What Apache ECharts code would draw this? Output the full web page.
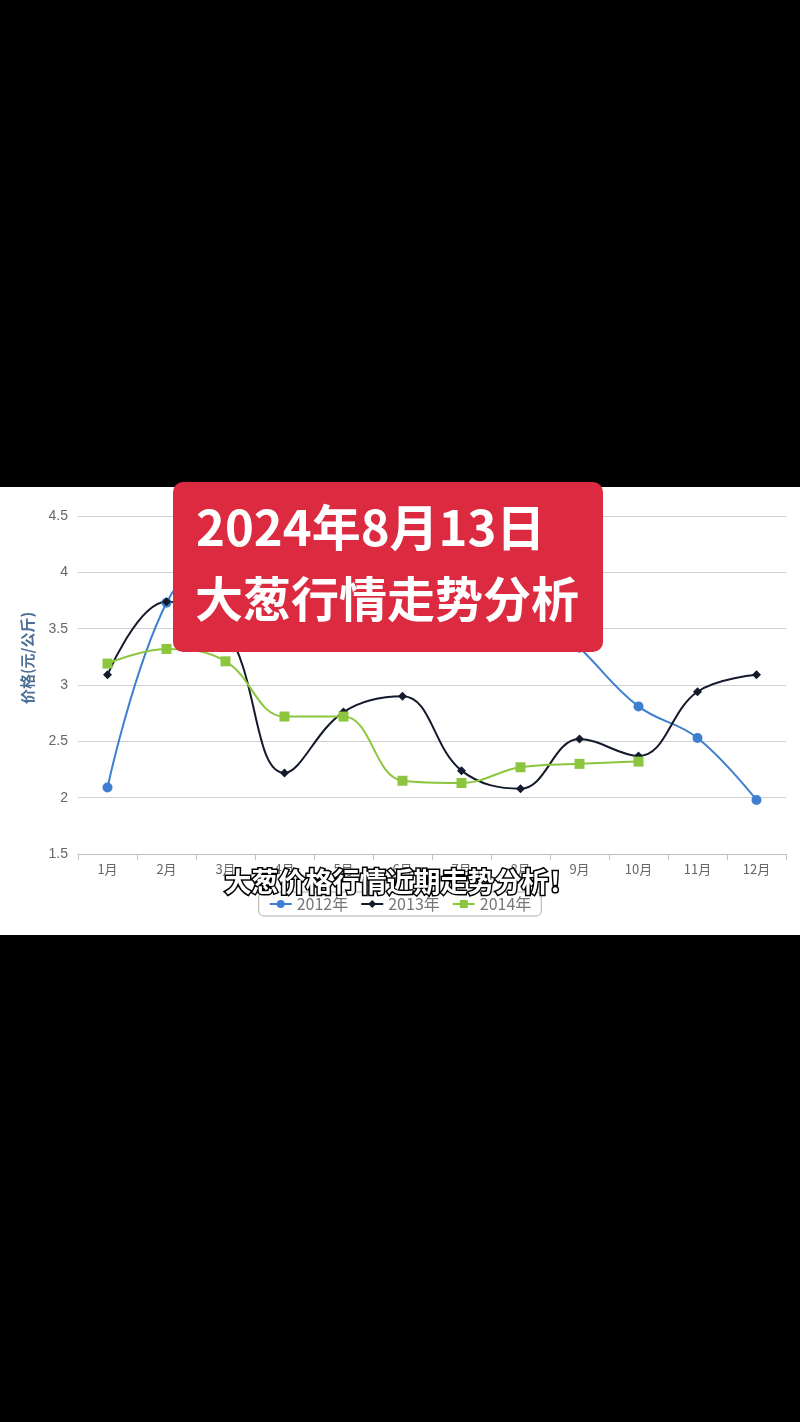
<!DOCTYPE html>
<html>
<head>
<meta charset="utf-8">
<style>
  html, body { margin: 0; padding: 0; background: #000; }
  #main { width: 800px; height: 1422px; }
</style>
<script src="https://cdn.jsdelivr.net/npm/echarts@6/dist/echarts.min.js"></script>
</head>
<body>
<div id="main"></div>
<script>
// 数据
var months = ['1月', '2月', '3月', '4月', '5月', '6月', '7月', '8月', '9月', '10月', '11月', '12月'];
var seriesNames = ['2012年', '2013年', '2014年'];
var price2012 = [2.09, 3.73, 4.2, 4.3, 4.1, 4.0, 4.0, 3.8, 3.33, 2.81, 2.53, 1.98];
var price2013 = [3.09, 3.74, 3.5, 2.22, 2.76, 2.90, 2.24, 2.08, 2.52, 2.37, 2.94, 3.09];
var price2014 = [3.19, 3.32, 3.21, 2.72, 2.72, 2.15, 2.13, 2.27, 2.30, 2.32, null, null];
var yTicks = { min: 1.5, max: 4.5, step: 0.5 };

var myChart = echarts.init(document.getElementById('main'));

function lineSeries(name, data, color, symbol, size) {
  return {
    name: name,
    type: 'line',
    smooth: 0.4,
    data: data,
    symbol: symbol,
    symbolSize: size,
    connectNulls: false,
    lineStyle: { color: color, width: 2 },
    itemStyle: { color: color },
    emphasis: { disabled: true },
    z: 3
  };
}

var option = {
  backgroundColor: '#000',
  animation: false,
  grid: { left: 78, right: 14, top: 516, bottom: 568 },
  legend: {
    data: seriesNames,
    left: 'center',
    top: 892,
    itemGap: 12,
    itemWidth: 22,
    itemHeight: 10,
    padding: [4, 10, 4, 10],
    borderColor: '#b0b0b0',
    borderWidth: 1,
    borderRadius: 5,
    textStyle: { color: '#777', fontSize: 16, fontFamily: 'Noto Sans CJK SC' }
  },
  xAxis: {
    type: 'category',
    data: months,
    boundaryGap: true,
    axisLine: { lineStyle: { color: '#c0c0c0' } },
    axisTick: { show: true, length: 6, lineStyle: { color: '#c0c0c0' } },
    axisLabel: { color: '#666', fontSize: 13, margin: 9, fontFamily: 'Noto Sans CJK SC' }
  },
  yAxis: {
    type: 'value',
    min: yTicks.min,
    max: yTicks.max,
    interval: yTicks.step,
    axisLine: { show: false },
    axisTick: { show: false },
    splitLine: { lineStyle: { color: '#d0d0d0' } },
    axisLabel: { color: '#666', fontSize: 14, margin: 10 }
  },
  series: [
    lineSeries(seriesNames[0], price2012, '#3f7fcf', 'circle', 10),
    lineSeries(seriesNames[1], price2013, '#121a2c', 'diamond', 9),
    lineSeries(seriesNames[2], price2014, '#8cc63f', 'rect', 10)
  ],
  graphic: [
    // 白色图表底
    {
      type: 'rect', z: -10, silent: true,
      shape: { x: 0, y: 487, width: 800, height: 448 },
      style: { fill: '#fff' }
    },
    // 纵轴标题
    {
      type: 'text', z: 5, silent: true,
      x: 27, y: 658, rotation: Math.PI / 2,
      style: {
        text: '价格(元/公斤)', fill: '#4d6f96',
        font: 'bold 15px "Noto Sans CJK SC"',
        align: 'center', verticalAlign: 'middle'
      }
    },
    // 红色标题框
    {
      type: 'rect', z: 100, silent: true,
      shape: { x: 173, y: 482, width: 430, height: 170, r: 10 },
      style: { fill: '#dc2a40' }
    },
    {
      type: 'text', z: 101, silent: true,
      left: 196, top: 503,
      style: { text: '2024年8月13日', fill: '#fff', font: 'bold 49px "Noto Sans CJK SC"' }
    },
    {
      type: 'text', z: 101, silent: true,
      left: 195, top: 575,
      style: { text: '大葱行情走势分析', fill: '#fff', font: 'bold 48px "Noto Sans CJK SC"' }
    },
    // 字幕
    {
      type: 'text', z: 110, silent: true,
      left: 'center', top: 867,
      style: {
        text: '大葱价格行情近期走势分析！',
        fill: '#fff', stroke: '#000', lineWidth: 3,
        font: 'bold 27px "Noto Sans CJK SC"'
      }
    }
  ]
};

myChart.setOption(option);
</script>
</body>
</html>
